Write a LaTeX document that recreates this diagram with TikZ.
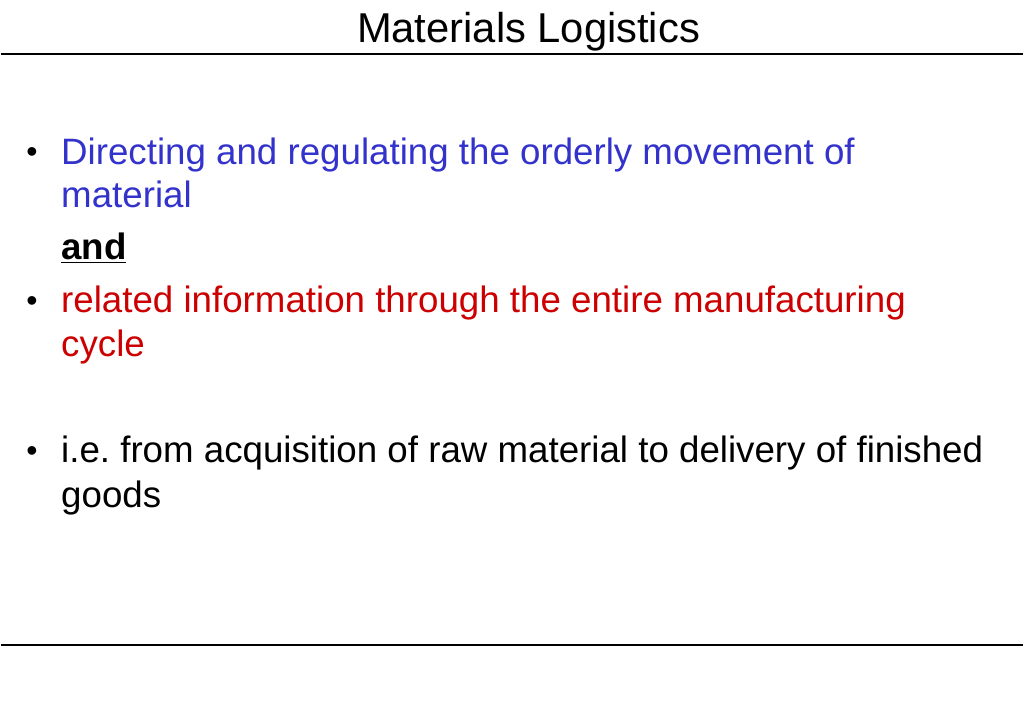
\documentclass[tikz,border=0pt]{standalone}
\usepackage{fontspec}
\setmainfont{Liberation Sans}
\definecolor{slideblue}{RGB}{51,51,204}
\definecolor{slidered}{RGB}{204,0,0}
\frenchspacing
\begin{document}
\begin{tikzpicture}[x=1pt,y=-1pt,
  body/.style={anchor=base west,inner sep=0pt,font=\fontsize{36.7}{44}\selectfont},
  bul/.style={anchor=base,inner sep=0pt,font=\fontsize{32}{40}\selectfont},
  rule/.style={line width=2pt}]
\useasboundingbox (0,0) rectangle (1023,708);
\node[anchor=base,inner sep=0pt,font=\fontsize{41.7}{50}\selectfont] (title) at (528.5,43) {Materials Logistics};
\coordinate (tl) at (1,54.5); \coordinate (tr) at (1023,54.5);
\draw[rule] (tl) -- (tr);
\coordinate (bl) at (1,645); \coordinate (br) at (1023,645);
\draw[rule] (bl) -- (br);
\node[bul] (b1) at (32,163) {•};
\node[body,text=slideblue] (l1) at (61,164.5) {Directing and regulating the orderly movement of};
\node[body,text=slideblue] (l2) at (61,208) {material};
\node[body,font=\fontsize{36.7}{44}\selectfont\bfseries] (and) at (61,260) {\underline{and}};
\node[bul] (b2) at (32,311.5) {•};
\node[body,text=slidered] (l3) at (61,313) {related information through the entire manufacturing};
\node[body,text=slidered] (l4) at (61,357) {cycle};
\node[bul] (b3) at (32,461.5) {•};
\node[body] (l5) at (61,463) {i.e. from acquisition of raw material to delivery of finished};
\node[body] (l6) at (61,507) {goods};
\end{tikzpicture}
\end{document}
